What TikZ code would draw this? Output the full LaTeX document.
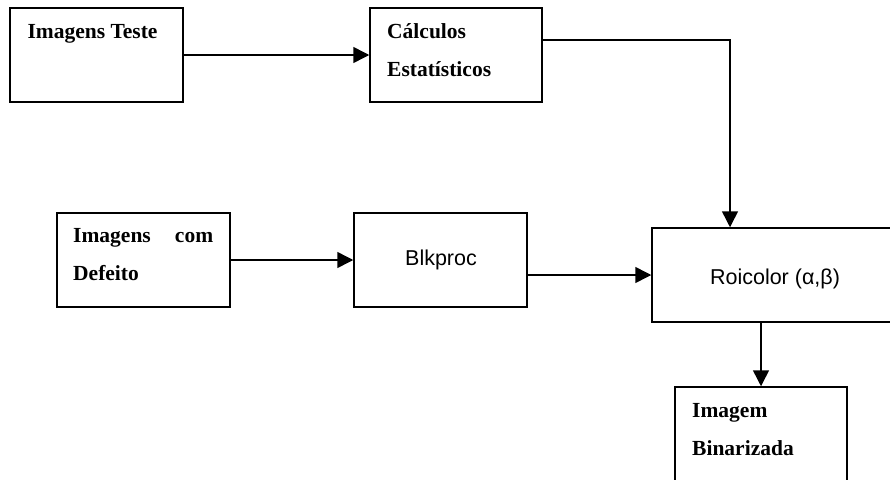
\documentclass[tikz,border=0pt]{standalone}
\usepackage{fontspec}
\setmainfont{Liberation Serif}
\newfontfamily\sansfnt{Liberation Sans}
\usetikzlibrary{arrows.meta}
\begin{document}
\begin{tikzpicture}[x=1pt,y=-1pt,
  blockbox/.style={draw=black, line width=1.5pt, rectangle, inner sep=0pt,
    minimum width=173pt, minimum height=94pt},
  serifbold/.style={font=\bfseries\fontsize{21.5}{26}\selectfont, inner sep=0pt},
  sanslabel/.style={font=\sansfnt\fontsize{21.5}{26}\selectfont, inner sep=0pt},
  flow/.style={line width=1.5pt, -{Triangle[length=16pt,width=16pt]}}]
  \clip (0,0) rectangle (890,479);
  \fill[white] (0,0) rectangle (890,479);

  % blocks
  \node[blockbox] (teste) at (96.5,55) {};
  \node[blockbox, minimum width=172pt] (calc) at (456,55) {};
  \node[blockbox] (defeito) at (143.5,260) {};
  \node[blockbox] (blk) at (440.5,260) {};
  \node[blockbox, minimum width=246pt] (roi) at (775,275) {};
  \node[blockbox, minimum width=172pt] (bin) at (761,434) {};

  % labels
  \node[serifbold, anchor=base] (tTeste) at (92.5,38.5) {Imagens Teste};
  \node[serifbold, anchor=base west] (tCalcA) at (387,38.3) {Cálculos};
  \node[serifbold, anchor=base west] (tCalcB) at (387,76) {Estatísticos};
  \node[serifbold, anchor=base west] (tDefA) at (73,242.7) {\makebox[140pt][s]{Imagens com}};
  \node[serifbold, anchor=base west] (tDefB) at (73,280) {Defeito};
  \node[sanslabel, anchor=base] (tBlk) at (441,265.7) {Blkproc};
  \node[sanslabel, anchor=base] (tRoi) at (775,284) {Roicolor (α,β)};
  \node[serifbold, anchor=base west] (tBinA) at (692,417) {Imagem};
  \node[serifbold, anchor=base west] (tBinB) at (692,455) {Binarizada};

  % connectors
  \draw[flow] (teste.east) -- (calc.west);
  \draw[flow] ([yshift=15pt]calc.east) -| ([xshift=-45pt]roi.north);
  \draw[flow] (defeito.east) -- (blk.west);
  \draw[flow] (blk.east |- roi.west) -- (roi.west);
  \draw[flow] (bin.north |- roi.south) -- (bin.north);
\end{tikzpicture}
\end{document}
